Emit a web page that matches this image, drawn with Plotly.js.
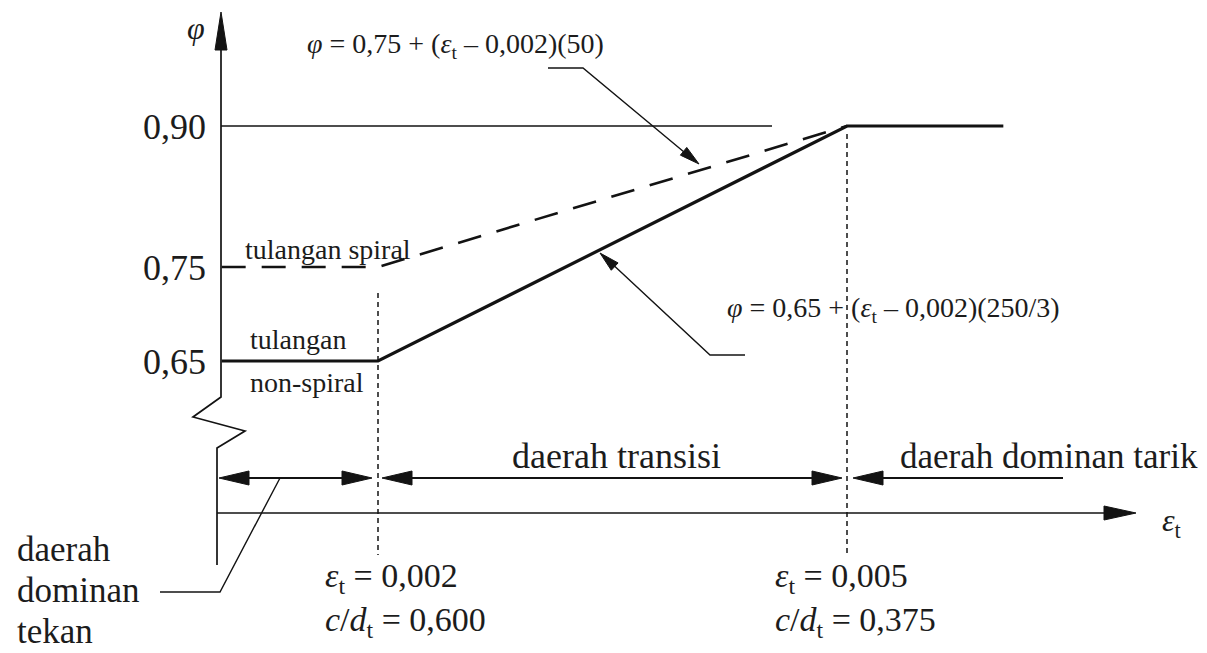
<!DOCTYPE html>
<html>
<head>
<meta charset="utf-8">
<script src="https://cdn.plot.ly/plotly-3.0.1.min.js"></script>
<style>
  html, body { margin: 0; padding: 0; background: #ffffff; }
  #chart { width: 1207px; height: 653px; }
</style>
</head>
<body>
<div id="chart"></div>
<script>
// Strength reduction factor phi against net tensile strain eps_t
const strainNonSpiral = [0.001, 0.002, 0.005, 0.006];
const phiNonSpiral    = [0.65, 0.65, 0.90, 0.90];
const strainSpiral    = [0.001, 0.002, 0.005];
const phiSpiral       = [0.75, 0.75, 0.90];

const phiTicks      = [0.65, 0.75, 0.90];
const phiTickLabels = ['0,65', '0,75', '0,90'];

const zoneLimits = [0.002, 0.005];
const limitStrainLabels = ['0,002', '0,005'];
const limitDepthLabels  = ['0,600', '0,375'];
const zoneNames = ['daerah transisi', 'daerah dominan tarik'];
const compressionZone = ['daerah', 'dominan', 'tekan'];

const formulaSpiral    = '<i>φ</i> = 0,75 + (<i>ε</i><sub>t</sub> – 0,002)(50)';
const formulaNonSpiral = '<i>φ</i> = 0,65 + (<i>ε</i><sub>t</sub> – 0,002)(250/3)';

// ---- drawing helpers (pixel -> paper) ----
const W = 1207, H = 653;
const fx = x => x / W;
const fy = y => 1 - y / H;
const FONT = 'Liberation Serif, Times New Roman, serif';
const INK = '#131313';
const TXT = '#1c1c1c';

// plot scale: eps 0.002 -> 378px, 0.005 -> 847px ; phi 0.90 -> 126px, 0.65 -> 361px
const kx = (847 - 378) / 0.003;
const x0 = 0.002 - 378 / kx;
const xRange = [x0, x0 + W / kx];
const ky = (361 - 126) / 0.25;
const yTop = 0.90 + 126 / ky;
const yRange = [yTop - H / ky, yTop];

function polyline(pts, width, dash) {
  return {
    type: 'path', xref: 'paper', yref: 'paper',
    path: pts.map((p, i) => (i ? 'L' : 'M') + fx(p[0]) + ',' + fy(p[1])).join(' '),
    line: { color: INK, width: width, dash: dash || 'solid' }
  };
}
function head(tx, ty, dx, dy, len, hw) {
  const n = Math.hypot(dx, dy); const ux = dx / n, uy = dy / n;
  const bx = tx - ux * len, by = ty - uy * len;
  const px = -uy * hw, py = ux * hw;
  const pts = [[tx, ty], [bx + px, by + py], [bx - px, by - py]];
  return {
    type: 'path', xref: 'paper', yref: 'paper',
    path: pts.map((p, i) => (i ? 'L' : 'M') + fx(p[0]) + ',' + fy(p[1])).join(' ') + ' Z',
    fillcolor: INK, line: { color: INK, width: 1 }
  };
}
function label(text, x, y, size, anchor) {
  return {
    text: text, xref: 'paper', yref: 'paper', x: fx(x), y: fy(y),
    xanchor: anchor || 'left', yanchor: 'middle', align: 'left', showarrow: false,
    font: { family: FONT, size: size, color: TXT }
  };
}
function limitLabel(i, x) {
  return label('<i>ε</i><sub>t</sub> = ' + limitStrainLabels[i] +
               '<br><i>c</i>/<i>d</i><sub>t</sub> = ' + limitDepthLabels[i], x, 600, 34);
}

const traces = [
  {
    x: strainNonSpiral, y: phiNonSpiral, type: 'scatter', mode: 'lines',
    line: { color: INK, width: 3.2 }, hoverinfo: 'skip'
  },
  {
    x: strainSpiral, y: phiSpiral, type: 'scatter', mode: 'lines',
    line: { color: INK, width: 2.6, dash: '24px,16px' }, hoverinfo: 'skip'
  }
];

const shapes = [
  // vertical axis with break
  polyline([[221, 40], [221, 397], [193, 417], [245, 431], [217, 448], [217, 565]], 1.7),
  head(221, 12, 0, -1, 38, 6),
  // horizontal axis
  polyline([[217, 513], [1110, 513]], 1.7),
  head(1136, 513, 1, 0, 32, 7),
  // reference line at phi = 0.90
  { type: 'line', xref: 'paper', yref: 'y', x0: fx(221), x1: fx(772), y0: 0.90, y1: 0.90,
    line: { color: INK, width: 1.5 } },
  // strain limits
  { type: 'line', xref: 'x', yref: 'paper', x0: zoneLimits[0], x1: zoneLimits[0], y0: fy(293), y1: fy(555),
    line: { color: INK, width: 1.5, dash: '5px,4px' } },
  { type: 'line', xref: 'x', yref: 'paper', x0: zoneLimits[1], x1: zoneLimits[1], y0: fy(134), y1: fy(555),
    line: { color: INK, width: 1.5, dash: '5px,4px' } },
  // zone extents
  polyline([[230, 478], [362, 478]], 1.9),
  head(219, 478, -1, 0, 30, 7), head(372, 478, 1, 0, 30, 7),
  polyline([[392, 478], [832, 478]], 1.9),
  head(382, 478, -1, 0, 30, 7), head(842, 478, 1, 0, 30, 7),
  polyline([[863, 478], [1063, 478]], 1.9),
  head(853, 478, -1, 0, 30, 7),
  // compression zone leader
  polyline([[280, 478], [220, 592], [160, 592]], 1.4),
  // formula leaders
  polyline([[548, 68], [583, 68], [690, 157]], 1.4),
  head(699, 164, 114, 94, 20, 5),
  polyline([[745, 355], [710, 355], [608, 260]], 1.4),
  head(600, 253, -110, -102, 20, 5)
];

const annotations = [
  label('<i>φ</i>', 196, 28, 32, 'center'),
  label('<i>ε</i><sub>t</sub>', 1160, 522, 32),
  label(formulaSpiral, 305, 45, 28),
  label(formulaNonSpiral, 725, 310, 28),
  label('tulangan spiral', 243, 249, 28),
  label('tulangan', 248, 339, 28),
  label('non-spiral', 248, 382, 28),
  label(zoneNames[0], 510, 456, 36),
  label(zoneNames[1], 898, 456, 35),
  label(compressionZone[0], 15, 549, 35),
  label(compressionZone[1], 15, 590, 35),
  label(compressionZone[2], 15, 631, 35),
  limitLabel(0, 323),
  limitLabel(1, 773)
];

const layout = {
  width: W, height: H,
  margin: { l: 0, r: 0, t: 0, b: 0 },
  paper_bgcolor: '#ffffff', plot_bgcolor: '#ffffff',
  showlegend: false,
  xaxis: { range: xRange, visible: false, fixedrange: true },
  yaxis: {
    range: yRange, anchor: 'free', position: fx(221), side: 'left',
    tickvals: phiTicks, ticktext: phiTickLabels,
    ticks: '', showline: false, showgrid: false, zeroline: false,
    ticklabelstandoff: 15, fixedrange: true,
    tickfont: { family: FONT, size: 36, color: TXT }
  },
  shapes: shapes,
  annotations: annotations
};

Plotly.newPlot('chart', traces, layout, { displayModeBar: false });
</script>
</body>
</html>
